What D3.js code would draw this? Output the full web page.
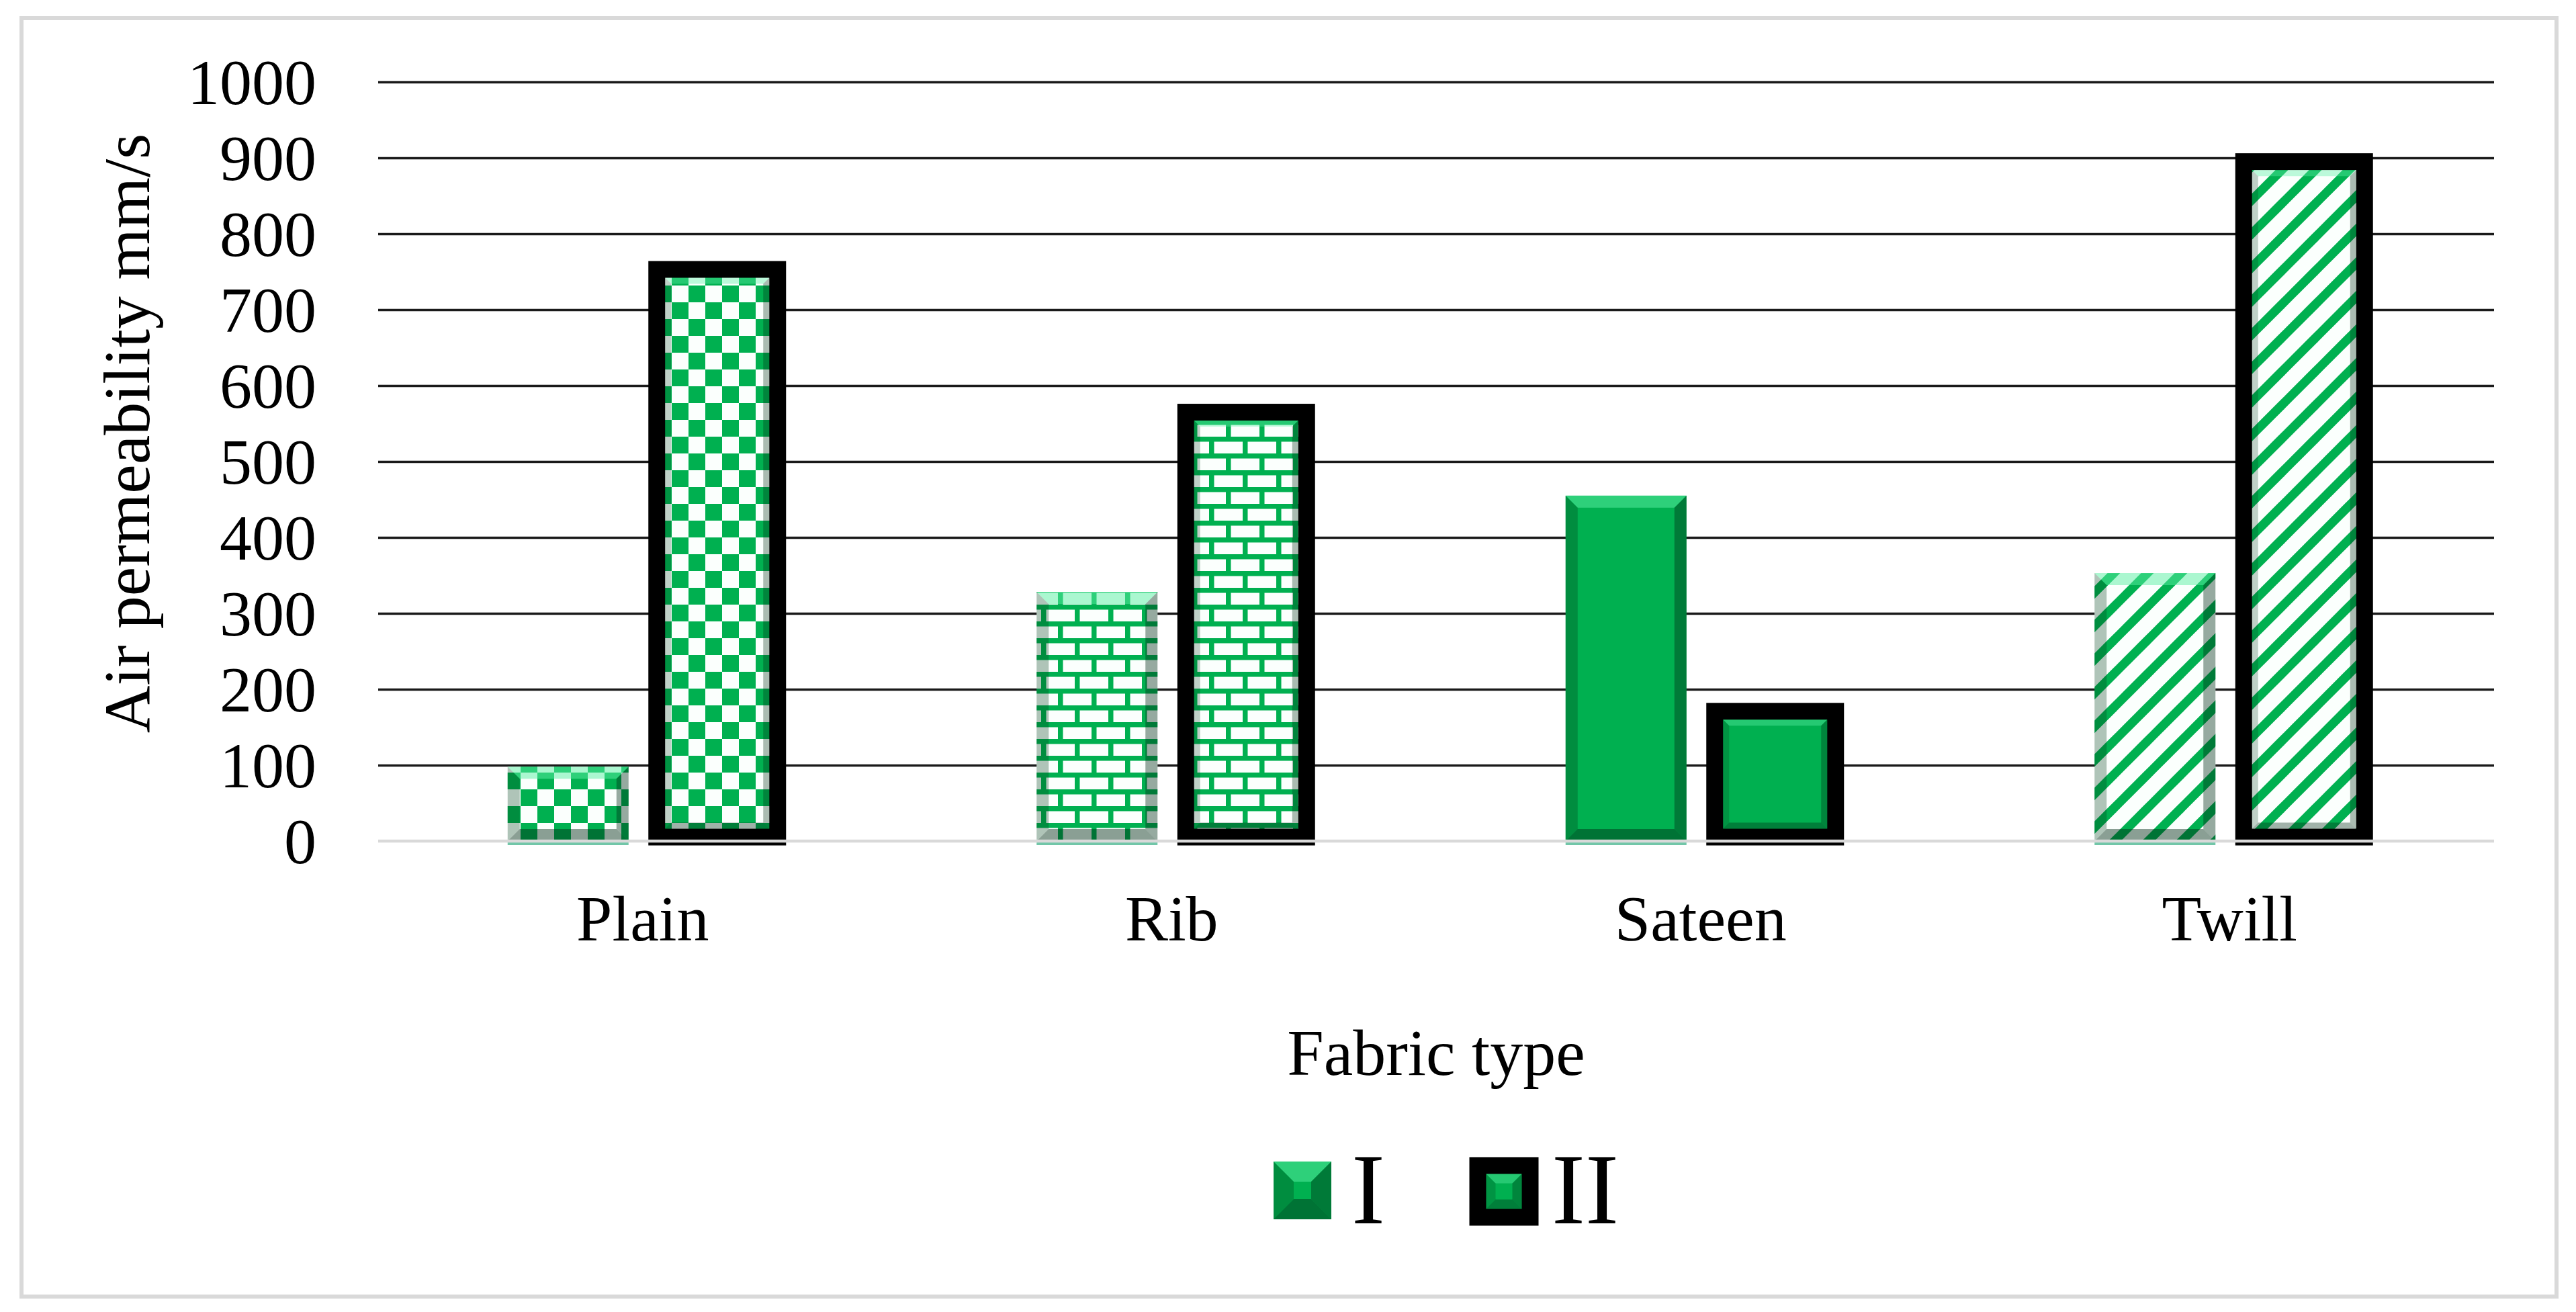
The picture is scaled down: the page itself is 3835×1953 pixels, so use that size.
<!DOCTYPE html>
<html>
<head>
<meta charset="utf-8">
<script src="https://cdn.jsdelivr.net/npm/d3@7"></script>
<style>
  html, body { margin: 0; padding: 0; background: #fff; }
  svg { display: block; }
  text { font-family: "Times New Roman", "Liberation Serif", serif; fill: #000; }
</style>
</head>
<body>
<svg id="chart" width="3835" height="1953"></svg>
<script>
// --- data ---
const categories = ['Plain', 'Rib', 'Sateen', 'Twill'];
const seriesNames = ['I', 'II'];
const valuesI = [98, 328, 455, 353];
const valuesII = [753, 565, 171, 895];
const yTickValues = [0, 100, 200, 300, 400, 500, 600, 700, 800, 900, 1000];
const yTitle = 'Air permeability mm/s';
const xTitle = 'Fabric type';

// fill pattern per category (same for both series)
const fillByCategory = {Plain: 'url(#pat-check)', Rib: 'url(#pat-brick)', Sateen: '#00b050', Twill: 'url(#pat-diag)'};

const GREEN = '#00b050';
const svg = d3.select('#chart');
const W = 3835, H = 1953;
const plot = {left: 563, right: 3713, top: 122, bottom: 1252};

svg.append('rect').attr('width', W).attr('height', H).attr('fill', '#fff');
// outer chart border
svg.append('rect')
  .attr('x', 32).attr('y', 27).attr('width', 3774).attr('height', 1903)
  .attr('fill', 'none').attr('stroke', '#d9d9d9').attr('stroke-width', 6);

// --- patterns (Excel style 8x8 tiles, scaled) ---
const u = 6.25;
const defs = svg.append('defs');
function tile(id) {
  const p = defs.append('pattern').attr('id', id)
    .attr('patternUnits', 'userSpaceOnUse')
    .attr('width', 8 * u).attr('height', 8 * u);
  p.append('rect').attr('width', 8 * u).attr('height', 8 * u).attr('fill', '#fbfffd');
  return p;
}
// large checkerboard
const pc = tile('pat-check');
pc.append('rect').attr('x', 0).attr('y', 0).attr('width', 4 * u).attr('height', 4 * u).attr('fill', GREEN);
pc.append('rect').attr('x', 4 * u).attr('y', 4 * u).attr('width', 4 * u).attr('height', 4 * u).attr('fill', GREEN);
// horizontal brick
const pb = tile('pat-brick');
pb.append('rect').attr('x', 0).attr('y', 0).attr('width', 8 * u).attr('height', 1.2 * u).attr('fill', GREEN);
pb.append('rect').attr('x', 0).attr('y', 4 * u).attr('width', 8 * u).attr('height', 1.2 * u).attr('fill', GREEN);
pb.append('rect').attr('x', 0).attr('y', 0).attr('width', 1.2 * u).attr('height', 4 * u).attr('fill', GREEN);
pb.append('rect').attr('x', 4 * u).attr('y', 4 * u).attr('width', 1.2 * u).attr('height', 4 * u).attr('fill', GREEN);
// wide upward diagonal (stripes going up to the right)
const pd = tile('pat-diag');
const s = 8 * u;
[[-s / 2, s / 2, s / 2, -s / 2], [0, s, s, 0], [s / 2, 1.5 * s, 1.5 * s, s / 2]].forEach(c => {
  pd.append('line')
    .attr('x1', c[0]).attr('y1', c[1]).attr('x2', c[2]).attr('y2', c[3])
    .attr('stroke', GREEN).attr('stroke-width', 3 * u / Math.SQRT2);
});

// --- scales ---
const y = d3.scaleLinear().domain([0, 1000]).range([plot.bottom, plot.top]);
const x0 = d3.scaleBand().domain(categories).range([plot.left, plot.right]);
const barW = 180, barGap = 42;
const groupW = 2 * barW + barGap;
const x1 = d3.scaleBand().domain(seriesNames)
  .range([x0.bandwidth() / 2 - groupW / 2, x0.bandwidth() / 2 + groupW / 2])
  .paddingInner(barGap / (barW + barGap));

// --- y axis with gridlines ---
const yAxis = svg.append('g')
  .attr('transform', `translate(${plot.left},0)`)
  .call(d3.axisLeft(y).tickValues(yTickValues).tickFormat(d3.format('d'))
    .tickSize(-(plot.right - plot.left)).tickPadding(92));
yAxis.select('.domain').remove();
yAxis.selectAll('.tick line')
  .attr('stroke', '#1a1a1a').attr('stroke-width', 3.5)
  .filter(d => d === 0).remove();
yAxis.selectAll('.tick text')
  .attr('font-size', 96).attr('font-family', '"Times New Roman", "Liberation Serif", serif')
  .attr('fill', '#000').attr('dy', '0.34em');

// --- bars ---
const rows = [];
categories.forEach((c, i) => {
  rows.push({cat: c, series: 'I', value: valuesI[i]});
  rows.push({cat: c, series: 'II', value: valuesII[i]});
});

function bevel(g, bx, by, bw, bh, b, k) {
  // k = strength
  g.append('path').attr('fill', '#5cf0a4').attr('opacity', 0.5 * k)
    .attr('d', `M${bx},${by} L${bx + bw},${by} L${bx + bw - b},${by + b} L${bx + b},${by + b} Z`);
  g.append('path').attr('fill', '#003b1c').attr('opacity', 0.3 * k)
    .attr('d', `M${bx},${by} L${bx + b},${by + b} L${bx + b},${by + bh - b} L${bx},${by + bh} Z`);
  g.append('path').attr('fill', '#002a14').attr('opacity', 0.4 * k)
    .attr('d', `M${bx + bw},${by} L${bx + bw},${by + bh} L${bx + bw - b},${by + bh - b} L${bx + bw - b},${by + b} Z`);
  g.append('path').attr('fill', '#002a14').attr('opacity', 0.45 * k)
    .attr('d', `M${bx},${by + bh} L${bx + b},${by + bh - b} L${bx + bw - b},${by + bh - b} L${bx + bw},${by + bh} Z`);
}

const barsG = svg.append('g');
rows.forEach(d => {
  const bx = x0(d.cat) + x1(d.series);
  const by = y(d.value);
  const bh = y(0) - by;
  const g = barsG.append('g');
  if (d.series === 'I') {
    g.append('rect').attr('x', bx).attr('y', by).attr('width', barW).attr('height', bh)
      .attr('fill', fillByCategory[d.cat]);
    const b = Math.min(18, bh / 2);
    bevel(g, bx, by, barW, bh, b, 1);
    // soft reflection below the bar
    g.append('rect').attr('x', bx).attr('y', y(0) + 2).attr('width', barW).attr('height', 4)
      .attr('fill', '#4fb892').attr('opacity', 0.8);
  } else {
    const sw = 25;
    g.append('rect').attr('x', bx).attr('y', by).attr('width', barW).attr('height', bh - 6)
      .attr('fill', fillByCategory[d.cat]).attr('stroke', '#000').attr('stroke-width', sw);
    const ix = bx + sw / 2, iy = by + sw / 2, iw = barW - sw, ih = bh - 6 - sw;
    bevel(g, ix, iy, iw, ih, 9, 0.8);
  }
});

// x axis line drawn over the bars
svg.append('line')
  .attr('x1', plot.left).attr('x2', plot.right)
  .attr('y1', y(0)).attr('y2', y(0))
  .attr('stroke', '#d9d9d9').attr('stroke-width', 4.5);

// --- x axis labels ---
const xAxis = svg.append('g')
  .attr('transform', `translate(0,${plot.bottom})`)
  .call(d3.axisBottom(x0).tickSize(0));
xAxis.select('.domain').remove();
xAxis.selectAll('.tick text')
  .attr('y', 148).attr('dy', 0)
  .attr('font-size', 96).attr('font-family', '"Times New Roman", "Liberation Serif", serif')
  .attr('fill', '#000');

// --- axis titles ---
svg.append('text')
  .attr('transform', 'translate(222,645) rotate(-90)')
  .attr('text-anchor', 'middle').attr('font-size', 98)
  .text(yTitle);
svg.append('text')
  .attr('x', (plot.left + plot.right) / 2).attr('y', 1600)
  .attr('text-anchor', 'middle').attr('font-size', 98)
  .text(xTitle);

// --- legend ---
const legend = svg.append('g');
// I: solid bevelled square
const l1 = legend.append('g');
l1.append('rect').attr('x', 1896).attr('y', 1729).attr('width', 86).attr('height', 86).attr('fill', GREEN);
bevel(l1, 1896, 1729, 86, 86, 30, 1);
legend.append('text').attr('x', 2012).attr('y', 1821).attr('font-size', 150).text(seriesNames[0]);
// II: black framed square
const l2 = legend.append('g');
l2.append('rect').attr('x', 2200).attr('y', 1735).attr('width', 78).attr('height', 77)
  .attr('fill', GREEN).attr('stroke', '#000').attr('stroke-width', 25);
bevel(l2, 2212.5, 1747.5, 53, 52, 14, 0.8);
legend.append('text').attr('x', 2310).attr('y', 1821).attr('font-size', 150).text(seriesNames[1]);
</script>
</body>
</html>
